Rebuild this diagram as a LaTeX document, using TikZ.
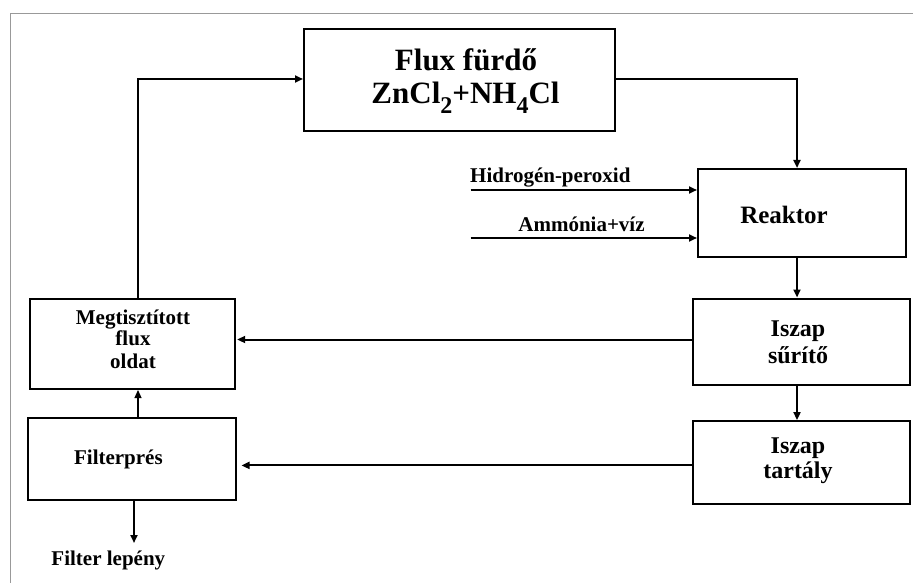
\documentclass[tikz,border=0pt]{standalone}
\usepackage{fontspec}
\setmainfont{Liberation Serif}
\usetikzlibrary{arrows.meta,calc}
\begin{document}
\begin{tikzpicture}[x=1pt,y=-1pt,
  box/.style={draw, line width=2pt, rectangle, inner sep=0pt},
  arr/.style={line width=2pt, -{Triangle[length=8pt,width=7pt]}},
  thinarr/.style={line width=1.2pt, -{Triangle[length=8pt,width=7pt]}},
  txt/.style={inner sep=0pt, anchor=base},
  small/.style={txt, font=\bfseries\fontsize{21}{21}\selectfont},
  mid/.style={txt, font=\bfseries\fontsize{24}{24}\selectfont},
  rk/.style={txt, font=\bfseries\fontsize{25}{25}\selectfont},
  big/.style={txt, font=\bfseries\fontsize{31}{31}\selectfont}]
\useasboundingbox (0,0) rectangle (913,583);
\fill[white] (0,0) rectangle (913,583);
\draw[gray!80, line width=1pt] (10.5,583) -- (10.5,13.3) -- (913,13.3);

% boxes
\node[box, minimum width=311pt, minimum height=102pt] (flux) at (459.5,80) {};
\node[box, minimum width=208pt, minimum height=87.5pt] (reak) at (802,212.75) {};
\node[box, minimum width=217pt, minimum height=86.5pt] (suri) at (801,341.75) {};
\node[box, minimum width=217pt, minimum height=82.7pt] (tart) at (801,462.4) {};
\node[box, minimum width=204.7pt, minimum height=90pt] (megt) at (132.35,344) {};
\node[box, minimum width=208pt, minimum height=82.5pt] (filt) at (132,458.75) {};

% texts
\node[big] (fluxA) at (466,70.7) {Flux fürdő};
\node[big] (fluxB) at (465.5,104) {ZnCl\raisebox{-10pt}{\fontsize{24}{24}\selectfont 2}+NH\raisebox{-10pt}{\fontsize{24}{24}\selectfont 4}Cl};
\node[rk] (reakT) at (784,223.3) {Reaktor};
\node[mid] (suriA) at (798,336) {Iszap};
\node[mid] (suriB) at (798,363) {sűrítő};
\node[mid] (tartA) at (798,453.3) {Iszap};
\node[mid] (tartB) at (798,478.5) {tartály};
\node[small] (megtA) at (133,324) {Megtisztított};
\node[small] (megtB) at (133,345.7) {flux};
\node[small] (megtC) at (133,368.3) {oldat};
\node[small] (filtT) at (118.4,464) {Filterprés};
\node[small] (cake) at (108.3,565) {Filter lepény};
\node[small, anchor=base west] (hpT) at (470,182.3) {Hidrogén-peroxid};
\node[small] (amT) at (581.5,231.7) {Ammónia+víz};

% free ends
\coordinate (hp) at (470.6,190);
\coordinate (am) at (470.6,238);
\coordinate (cakeEnd) at (134,543);

% connectors
\draw[arr] ([xshift=5.6pt]megt.north) |- ([yshift=1pt]flux.west);
\draw[arr] ([yshift=1pt]flux.east) -| ([xshift=-5pt]reak.north);
\draw[arr] (hp) -- (hp -| reak.west);
\draw[arr] (am) -- (am -| reak.west);
\draw[arr] ([xshift=-5pt]reak.south) -- ([xshift=-5pt]reak.south |- suri.north);
\draw[arr] ([yshift=2.25pt]suri.west) -- ([yshift=2.25pt,xshift=1.5pt]suri.west -| megt.east);
\draw[arr] ([xshift=-4pt]suri.south) -- ([xshift=-4pt]suri.south |- tart.north);
\draw[arr] ([yshift=-3pt]tart.west) -- ([yshift=-3pt,xshift=4.5pt]tart.west -| filt.east);
\draw[thinarr] ([xshift=6pt]filt.north) -- ([xshift=6pt]filt.north |- megt.south);
\draw[arr] ([xshift=2pt]filt.south) -- (cakeEnd);
\end{tikzpicture}
\end{document}
